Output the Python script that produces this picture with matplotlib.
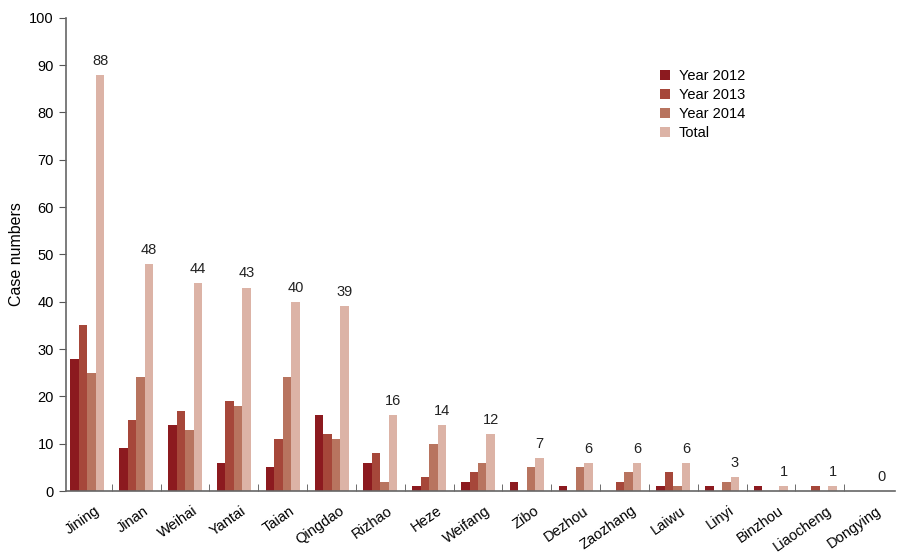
import matplotlib
matplotlib.use("Agg")
import matplotlib.pyplot as plt
import numpy as np

plt.rcParams['font.family'] = ['Liberation Sans', 'DejaVu Sans']

cities = ["Jining", "Jinan", "Weihai", "Yantai", "Taian", "Qingdao", "Rizhao", "Heze",
          "Weifang", "Zibo", "Dezhou", "Zaozhang", "Laiwu", "Linyi", "Binzhou",
          "Liaocheng", "Dongying"]
y2012 = [28, 9, 14, 6, 5, 16, 6, 1, 2, 2, 1, 0, 1, 1, 1, 0, 0]
y2013 = [35, 15, 17, 19, 11, 12, 8, 3, 4, 0, 0, 2, 4, 0, 0, 1, 0]
y2014 = [25, 24, 13, 18, 24, 11, 2, 10, 6, 5, 5, 4, 1, 2, 0, 0, 0]
total = [88, 48, 44, 43, 40, 39, 16, 14, 12, 7, 6, 6, 6, 3, 1, 1, 0]

series = [("Year 2012", y2012, "#8c1a1f"),
          ("Year 2013", y2013, "#a6473a"),
          ("Year 2014", y2014, "#b8745f"),
          ("Total", total, "#dcb3a6")]

fig = plt.figure(figsize=(8.99, 5.58), dpi=100)
ax = fig.add_axes([0.073, 0.12, 0.923, 0.848])

x = np.arange(len(cities))
w = 0.174
for k, (name, vals, col) in enumerate(series):
    bars = ax.bar(x + (k - 1.5) * w, vals, width=w, color=col, label=name)
    if name == "Total":
        for xi, v in zip(x + (k - 1.5) * w, vals):
            ax.text(xi, v + 1.5, str(v), ha='center', va='bottom', fontsize=10.5, color='#222222')

ax.set_xlim(-0.447, len(cities) - 0.45)
ax.set_ylim(0, 100)
ax.set_yticks(range(0, 101, 10))
# label anchors sit slightly right of each group centre, as in the reference
ax.set_xticks(x + 0.14)
ax.set_xticklabels(cities, rotation=35, ha='right', rotation_mode='anchor', fontsize=10.5)
ax.set_xticks(x[:-1] + 0.5, minor=True)
ax.tick_params(axis='x', which='major', length=0, pad=9)
ax.tick_params(axis='x', which='minor', direction='in', length=5, color='#555555')
ax.tick_params(axis='y', direction='out', length=5, color='#555555', labelsize=10.5)
ax.set_ylabel("Case numbers", fontsize=11.5)
for s in ['top', 'right']:
    ax.spines[s].set_visible(False)
for s in ['left', 'bottom']:
    ax.spines[s].set_color('#666666')
    ax.spines[s].set_linewidth(1.2)

ax.legend(loc='upper left', bbox_to_anchor=(0.7, 0.92), frameon=False, fontsize=10.5,
          handlelength=0.7, handleheight=0.7, handletextpad=0.6, labelspacing=0.35)

fig.savefig("out.png", dpi=100)
